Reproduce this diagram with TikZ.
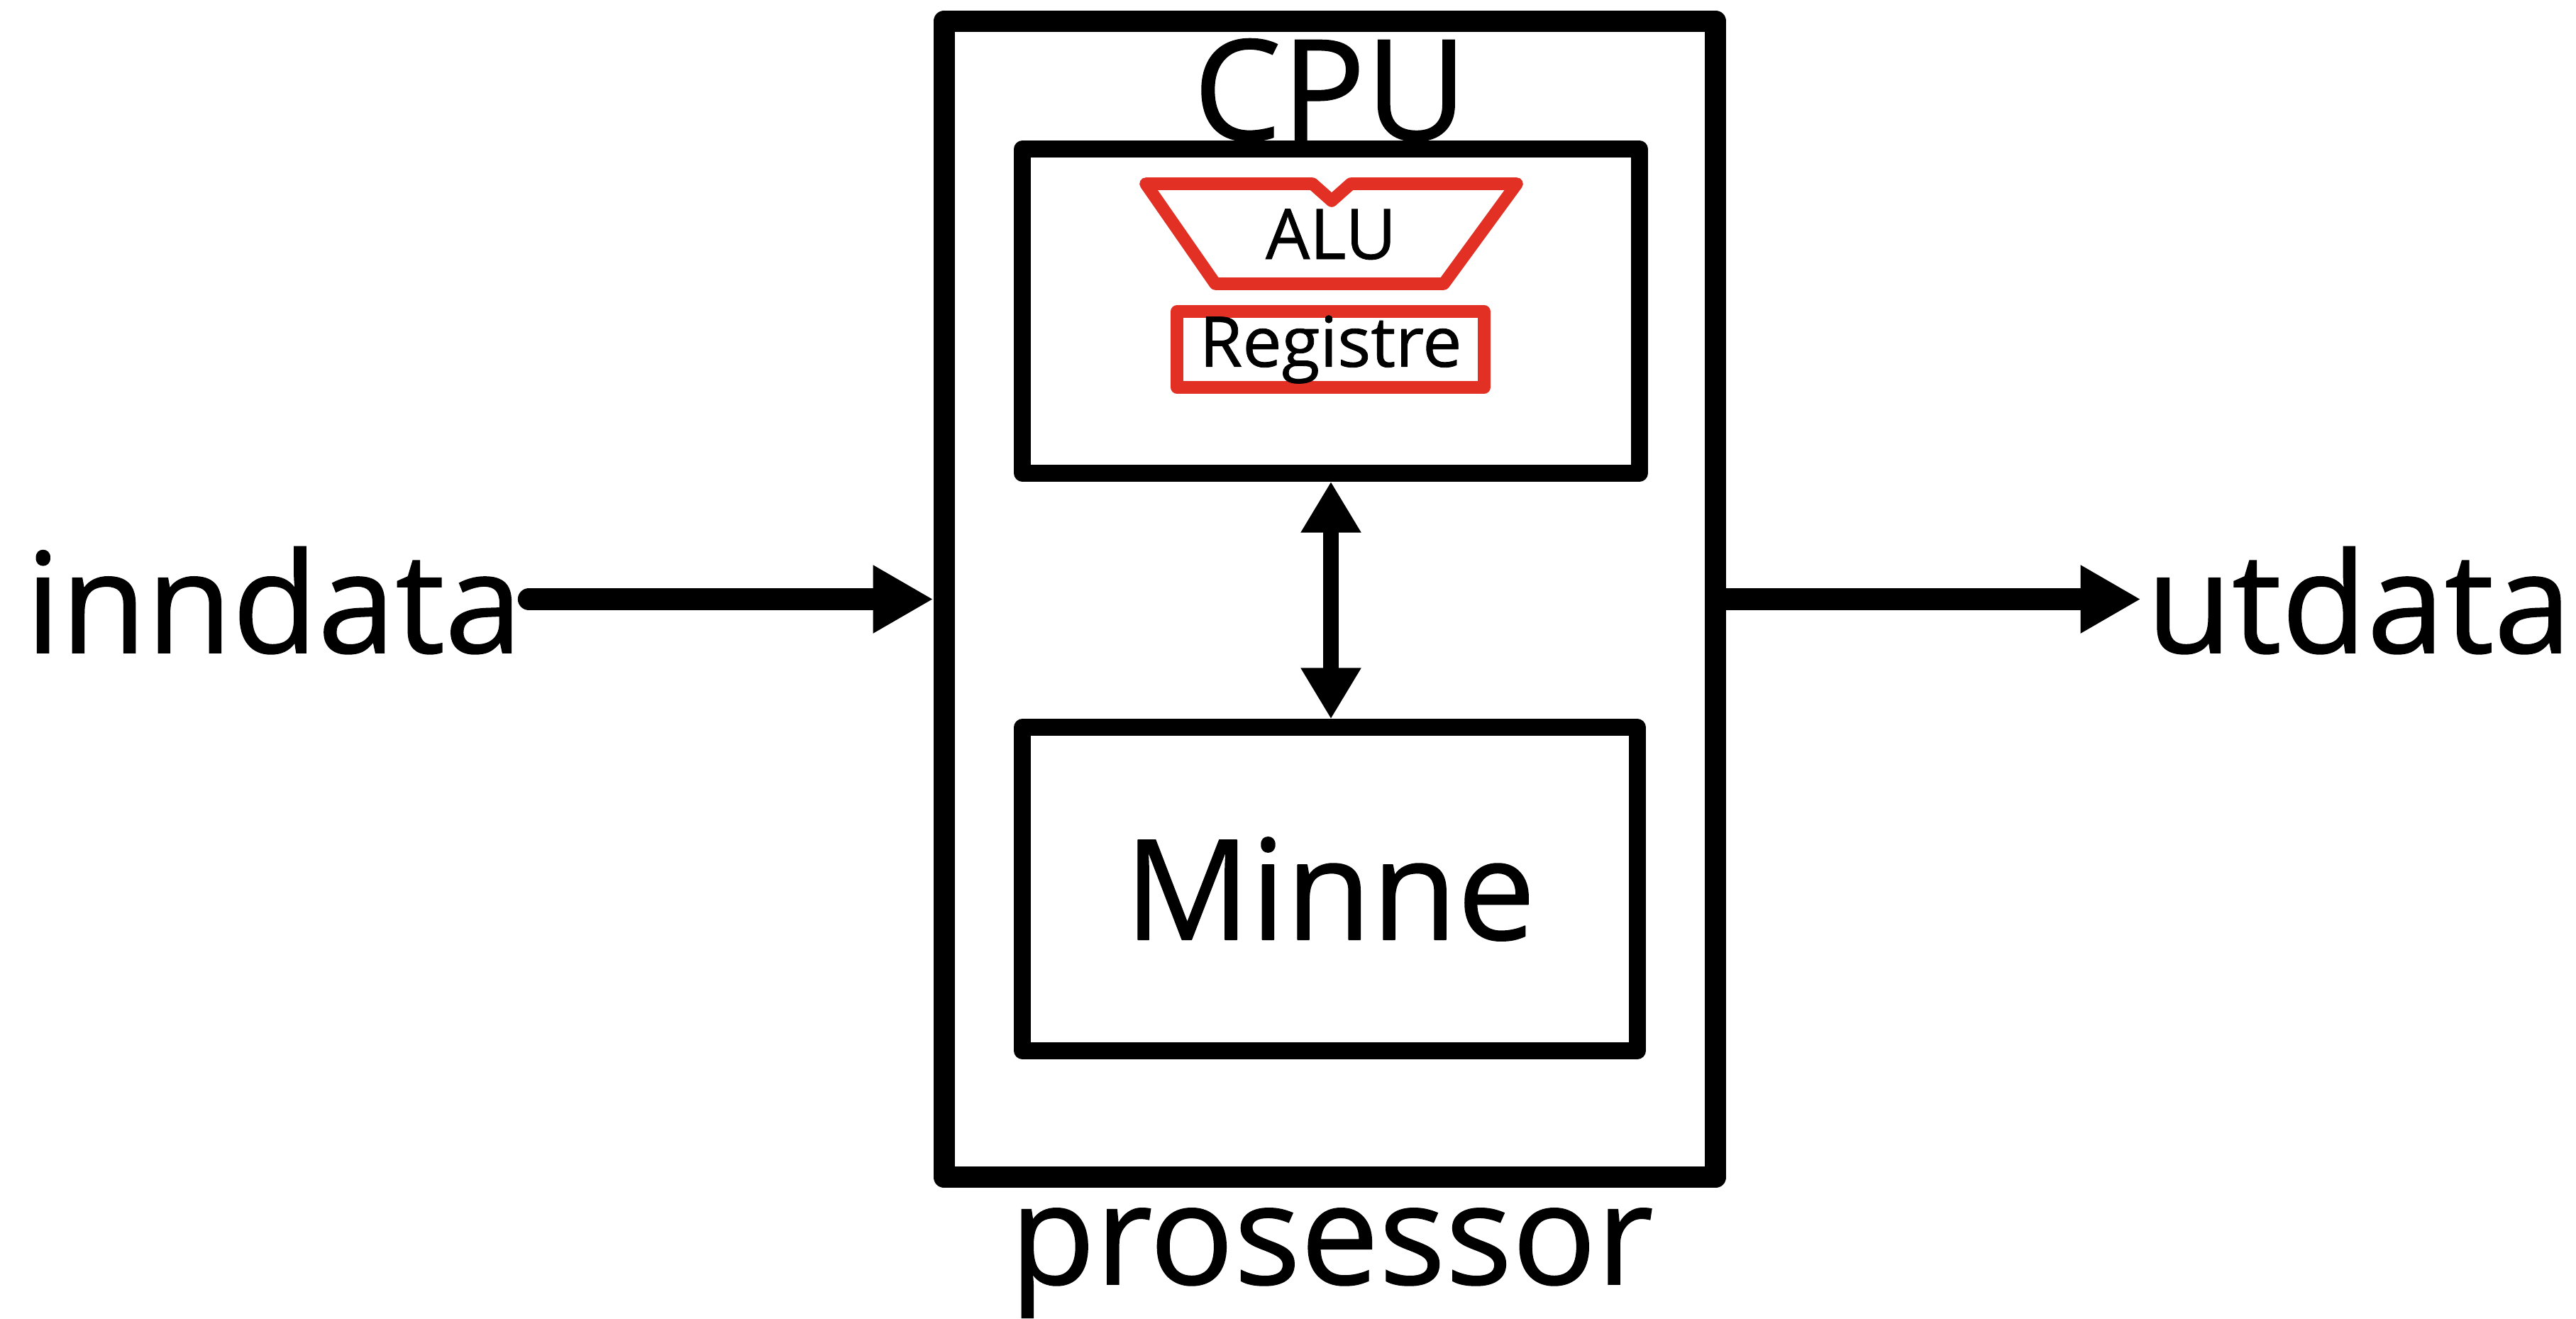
\documentclass[tikz,border=0pt]{standalone}
\usepackage{fontspec}
\setmainfont{Open Sans}[FakeBold=0.8]
\usepackage{xcolor}
\usetikzlibrary{arrows.meta,positioning}
\definecolor{alured}{RGB}{226,48,36}

\tikzset{
  box/.style={draw, rectangle, line width=6.6pt, line join=round},
  bigtext/.style={font=\fontsize{56}{60}\selectfont},
  smalltext/.style={font=\fontsize{28}{30}\selectfont},
  redbox/.style={draw=alured, line width=5pt, line join=round},
  flow/.style={line width=9pt, line cap=round, -{Triangle[length=0.85cm, width=0.9cm]}},
  bus/.style={line width=6.2pt, {Triangle[length=0.72cm, width=0.8cm]}-{Triangle[length=0.72cm, width=0.8cm]}},
}

\begin{document}
\begin{tikzpicture}
        \useasboundingbox (0,0) rectangle (36.31,-18.58);
        \node[box, line width=8.8pt, minimum width=10.87cm, minimum height=16.29cm] (prosessor) at (18.745,-8.445) {};
        \node[box, minimum width=8.70cm, minimum height=4.57cm] (cpu) at (18.76,-4.385) {};
        \node[box, bigtext, minimum width=8.67cm, minimum height=4.56cm] (minne) at (18.745,-12.53) {Minne};
        \node[bigtext, anchor=base] (cpulabel) at (18.75,-1.97) {CPU};
        \node[bigtext, anchor=base] (proslabel) at (18.77,-18.10) {prosessor};
        \node[bigtext, anchor=base, inner sep=0.25em] (inndata) at (3.86,-9.20) {inndata};
        \node[bigtext, anchor=base, inner sep=0.2em] (utdata) at (33.25,-9.20) {utdata};
        \draw[alured, line width=5pt, line join=round] (16.15,-2.59) -- (18.50,-2.59) -- (18.77,-2.83) -- (19.04,-2.59) -- (21.38,-2.59) -- (20.35,-4.00) -- (17.13,-4.00) -- cycle;
        \node[smalltext, anchor=base] (alu) at (18.76,-3.65) {ALU};
        \node[redbox, smalltext, minimum width=4.33cm, minimum height=1.07cm, inner sep=0pt] (registre) at (18.755,-4.925) {Registre};
        \draw[flow] (inndata.east |- prosessor.west) -- (prosessor.west);
        \draw[flow] (prosessor.east) -- (utdata.west |- prosessor.east);
        \draw[bus] (cpu.south) -- (cpu.south |- minne.north);
    \end{tikzpicture}
\end{document}
